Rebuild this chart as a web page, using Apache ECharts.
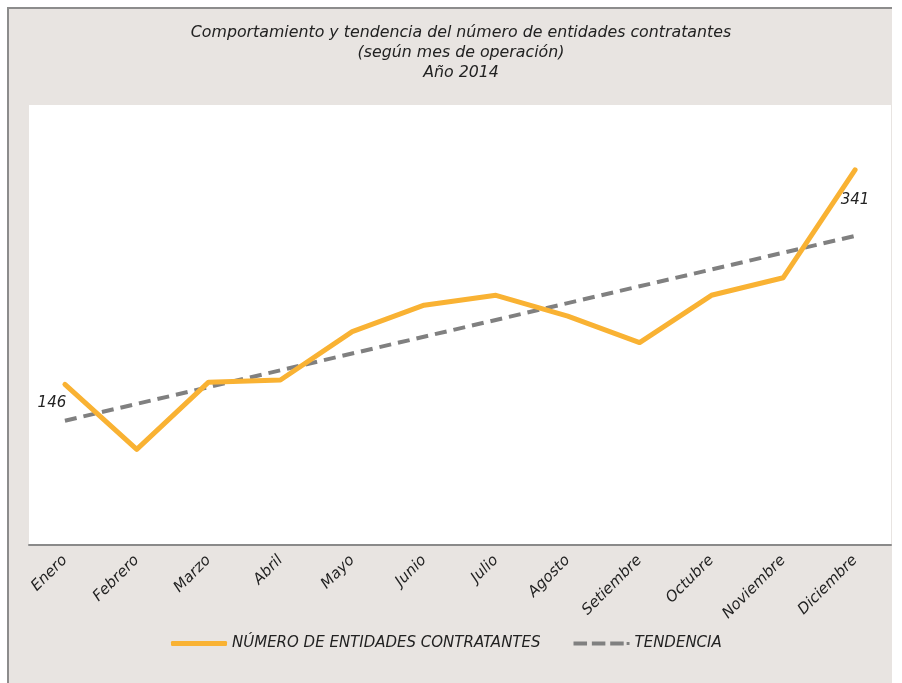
<!DOCTYPE html>
<html><head><meta charset="utf-8">
<script src="https://cdn.jsdelivr.net/npm/echarts@6/dist/echarts.min.js"></script>
<style>
html,body{margin:0;padding:0;background:#fff;}
#box{position:absolute;left:7px;top:7px;width:885px;height:676px;background:#e8e4e1;border-left:2px solid #8c8c8c;border-top:2px solid #8c8c8c;box-sizing:border-box;}
#c{position:absolute;left:0;top:0;width:902px;height:683px;}
</style></head>
<body>
<div id="box"></div>
<div id="c"></div>
<script>
const months = ['Enero','Febrero','Marzo','Abril','Mayo','Junio','Julio','Agosto','Setiembre','Octubre','Noviembre','Diciembre'];
const entidades = [146, 87, 148, 150, 194, 218, 227, 208, 184, 227, 243, 341];
const tendencia = [113, null, null, null, null, null, null, null, null, null, null, 281];
const titleLines = ['Comportamiento y tendencia del número de entidades contratantes','(según mes de operación)','Año 2014'];

const FONT = 'DejaVu Sans';
const chart = echarts.init(document.getElementById('c'), null, {renderer:'canvas'});
chart.setOption({
  backgroundColor: 'transparent',
  animation: false,
  title: {
    text: titleLines.join('\n'),
    left: 456, top: 18, padding: 5, textAlign: 'center',
    textStyle: {fontFamily: FONT, fontStyle: 'italic', fontWeight: 'normal', fontSize: 15.8, lineHeight: 20, color: '#222'}
  },
  grid: {left: 29, right: 11, top: 105, bottom: 138, show: true, backgroundColor: '#ffffff', borderWidth: 0},
  legend: {
    bottom: 27, left: 166, itemGap: 33, itemWidth: 56, itemHeight: 5,
    textStyle: {fontFamily: FONT, fontStyle: 'italic', fontSize: 15, color: '#222'},
    data: [
      {name: 'NÚMERO DE ENTIDADES CONTRATANTES', icon: 'roundRect'},
      {name: 'TENDENCIA', icon: 'path://M0,0H14V4H0Z M19,0H33V4H19Z M38,0H52V4H38Z M55,0.5H58V3.5H55Z'}
    ]
  },
  xAxis: {
    type: 'category', data: months, boundaryGap: true,
    axisLine: {lineStyle: {color: '#8a8a8a', width: 2}},
    axisTick: {show: false},
    axisLabel: {rotate: 45, margin: 13, fontFamily: FONT, fontStyle: 'italic', fontSize: 15, color: '#222'}
  },
  yAxis: {type: 'value', min: 0, max: 400, show: false, splitLine: {show: false}},
  series: [
    {
      name: 'NÚMERO DE ENTIDADES CONTRATANTES', type: 'line', data: entidades,
      symbol: 'none', z: 3,
      lineStyle: {color: '#F9B233', width: 5, cap: 'round', join: 'round'},
      itemStyle: {color: '#F9B233'},
      markPoint: {
        symbol: 'circle', symbolSize: 0,
        label: {show: true, fontFamily: FONT, fontStyle: 'italic', fontSize: 15, color: '#222'},
        data: [
          {coord: [0, entidades[0]], value: entidades[0], label: {position: 'bottom', offset: [-13, 6]}},
          {coord: [11, entidades[11]], value: entidades[11], label: {position: 'bottom', offset: [0, 18]}}
        ]
      }
    },
    {
      name: 'TENDENCIA', type: 'line', data: tendencia, connectNulls: true,
      symbol: 'none', z: 2,
      lineStyle: {color: '#808080', width: 4, type: [12, 7]},
      itemStyle: {color: '#808080'}
    }
  ]
});
</script>
</body></html>
